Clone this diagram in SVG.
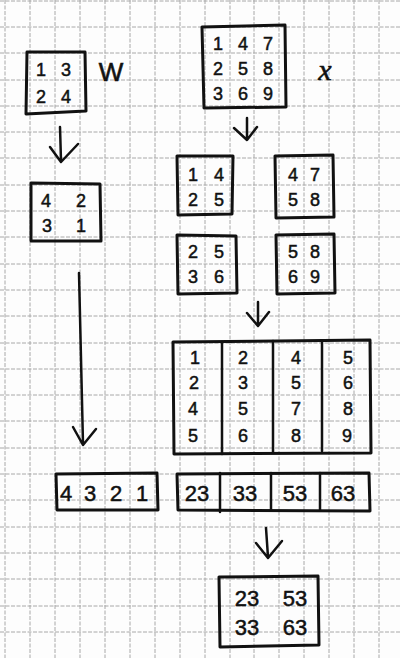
<svg xmlns="http://www.w3.org/2000/svg" width="400" height="658" viewBox="0 0 400 658">
<style>
.grid{stroke:#a8a8a8;stroke-width:1;fill:none;stroke-dasharray:4 1.5}
.box{fill:none;stroke:#111;stroke-width:3;stroke-linejoin:round;stroke-linecap:round}
.div{fill:none;stroke:#111;stroke-width:2.5;stroke-linecap:round}
.arr{fill:none;stroke:#111;stroke-width:2.5;stroke-linecap:round;stroke-linejoin:round}
.d{font-family:"Liberation Sans","DejaVu Sans",sans-serif;font-size:18px;fill:#111;stroke:#111;stroke-width:0.5;text-anchor:middle;dominant-baseline:central}
.big{font-size:22px}
.lbl{font-family:"Liberation Sans","DejaVu Sans",sans-serif;font-size:26px;fill:#111;stroke:#111;stroke-width:0.6;text-anchor:middle;dominant-baseline:central}
</style>
<rect width="400" height="658" fill="#fdfdfd"/>
<g id="grid" class="grid">
<path d="M5 0V658M30 0V658M55 0V658M80 0V658M105 0V658M130 0V658M155 0V658M180 0V658M205 0V658M230 0V658M254 0V658M279 0V658M304 0V658M329 0V658M354 0V658M379 0V658"/>
<path d="M0 1H400M0 27H400M0 53H400M0 80H400M0 106H400M0 132H400M0 158H400M0 185H400M0 211H400M0 237H400M0 264H400M0 290H400M0 316H400M0 343H400M0 369H400M0 395H400M0 421H400M0 448H400M0 474H400M0 500H400M0 527H400M0 553H400M0 579H400M0 606H400M0 632H400"/>
</g>
<g id="W">
<path class="box" d="M27 52L85 52L86 111L26 114Z"/>
<text class="d" x="41" y="70">1</text><text class="d" x="66" y="70">3</text>
<text class="d" x="41" y="97">2</text><text class="d" x="66" y="97">4</text>
<text class="lbl" x="111" y="72">W</text>
</g>
<g id="Wflip">
<path class="box" d="M31 183L100 184L101 241L31 241Z"/>
<text class="d" x="46" y="201">4</text><text class="d" x="81" y="201">2</text>
<text class="d" x="47" y="226">3</text><text class="d" x="81" y="226">1</text>
</g>
<g id="X">
<path class="box" d="M202 27L285 25L286 107L204 108Z"/>
<text class="d" x="218" y="44">1</text><text class="d" x="243" y="44">4</text><text class="d" x="268" y="44">7</text>
<text class="d" x="218" y="69">2</text><text class="d" x="243" y="69">5</text><text class="d" x="268" y="69">8</text>
<text class="d" x="218" y="94">3</text><text class="d" x="243" y="94">6</text><text class="d" x="268" y="94">9</text>
<text class="lbl" x="325" y="69" style="font-family:'Liberation Serif',serif;font-style:italic;font-size:30px">x</text>
</g>
<g id="P1">
<path class="box" d="M177 156L233 156L232 214L178 215Z"/>
<text class="d" x="193" y="175">1</text><text class="d" x="219" y="175">4</text>
<text class="d" x="193" y="200">2</text><text class="d" x="219" y="200">5</text>
</g>
<g id="P2">
<path class="box" d="M275 156L333 155L334 217L276 218Z"/>
<text class="d" x="293" y="175">4</text><text class="d" x="315" y="175">7</text>
<text class="d" x="293" y="200">5</text><text class="d" x="315" y="200">8</text>
</g>
<g id="P3">
<path class="box" d="M177 235L236 236L237 293L178 294Z"/>
<text class="d" x="193" y="252">2</text><text class="d" x="219" y="252">5</text>
<text class="d" x="193" y="277">3</text><text class="d" x="219" y="277">6</text>
</g>
<g id="P4">
<path class="box" d="M276 235L334 234L335 293L277 294Z"/>
<text class="d" x="293" y="252">5</text><text class="d" x="315" y="252">8</text>
<text class="d" x="293" y="277">6</text><text class="d" x="315" y="277">9</text>
</g>
<g id="M">
<path class="box" d="M173 342L370 340L371 453L174 454Z"/>
<path class="div" d="M222 342V454M273 341V452M322 341V451"/>
<text class="d" x="195" y="358">1</text><text class="d" x="194" y="383">2</text><text class="d" x="193" y="409">4</text><text class="d" x="193" y="436">5</text>
<text class="d" x="243" y="358">2</text><text class="d" x="243" y="383">3</text><text class="d" x="243" y="409">5</text><text class="d" x="243" y="436">6</text>
<text class="d" x="296" y="358">4</text><text class="d" x="296" y="383">5</text><text class="d" x="296" y="409">7</text><text class="d" x="296" y="436">8</text>
<text class="d" x="348" y="358">5</text><text class="d" x="348" y="383">6</text><text class="d" x="348" y="409">8</text><text class="d" x="347" y="436">9</text>
</g>
<g id="Wrow">
<path class="box" d="M56 474L157 473L158 510L57 510Z"/>
<text class="d big" x="66" y="493">4</text><text class="d big" x="90" y="493">3</text><text class="d big" x="116" y="493">2</text><text class="d big" x="142" y="493">1</text>
</g>
<g id="Yrow">
<path class="box" d="M177 474L369 473L370 511L178 510Z"/>
<path class="div" d="M220 473V512M271 473V510M320 473V510"/>
<text class="d big" x="197" y="493">23</text><text class="d big" x="245" y="493">33</text><text class="d big" x="295" y="493">53</text><text class="d big" x="343" y="493">63</text>
</g>
<g id="Y">
<path class="box" d="M219 577L318 576L319 645L220 647Z"/>
<text class="d big" x="247" y="598">23</text><text class="d big" x="295" y="598">53</text>
<text class="d big" x="247" y="627">33</text><text class="d big" x="295" y="627">63</text>
</g>
<g id="connectors" class="arr">
<path d="M60 127L61 161M50 147L61 162L78 144"/>
<path d="M79 273L83 444M73 427L83 445L96 429"/>
<path d="M247 118L247 139M234 128L247 140L257 127"/>
<path d="M258 302L258 325M247 313L258 326L269 312"/>
<path d="M266 528L268 557M256 543L268 558L282 541"/>
</g>
</svg>
